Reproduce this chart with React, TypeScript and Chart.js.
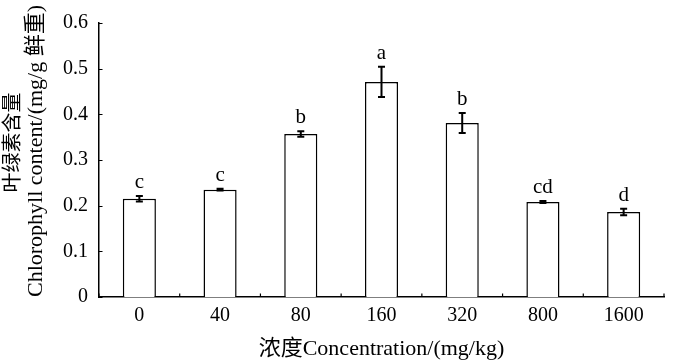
import React, { useEffect, useRef } from 'react';
import { Chart, registerables } from 'chart.js';

Chart.register(...registerables);

const categories = ['0', '40', '80', '160', '320', '800', '1600'];
const values = [0.215, 0.235, 0.357, 0.471, 0.381, 0.208, 0.186];
const errors = [0.006, 0.002, 0.006, 0.033, 0.022, 0.002, 0.007];
const letters = ['c', 'c', 'b', 'a', 'b', 'cd', 'd'];
const yTitleLine1 = '叶绿素含量';
const yTitleLine2 = 'Chlorophyll content/(mg/g 鲜重)';
const xTitle = '浓度Concentration/(mg/kg)';

const FONT = "'Liberation Serif', 'Noto Sans CJK SC', serif";

const overlayPlugin = {
  id: 'overlay',
  afterDatasetsDraw(chart: any) {
    const ctx = chart.ctx;
    const xs = chart.scales.x;
    const ys = chart.scales.y;
    const meta = chart.getDatasetMeta(0);
    ctx.save();
    ctx.strokeStyle = '#000';
    ctx.fillStyle = '#000';
    // error bars + significance letters
    meta.data.forEach((bar: any, i: number) => {
      const cx = bar.x;
      const top = ys.getPixelForValue(values[i] + errors[i]);
      const bot = ys.getPixelForValue(values[i] - errors[i]);
      ctx.lineWidth = 2;
      ctx.beginPath();
      ctx.moveTo(cx, top);
      ctx.lineTo(cx, bot);
      ctx.moveTo(cx - 3.5, top);
      ctx.lineTo(cx + 3.5, top);
      ctx.moveTo(cx - 3.5, bot);
      ctx.lineTo(cx + 3.5, bot);
      ctx.stroke();
      ctx.font = `21px ${FONT}`;
      ctx.textAlign = 'center';
      ctx.textBaseline = 'alphabetic';
      ctx.fillText(letters[i], cx, top - 8);
    });
    // inward tick marks
    ctx.lineWidth = 1.2;
    ctx.beginPath();
    ys.ticks.forEach((t: any) => {
      const py = Math.round(ys.getPixelForValue(t.value)) + 0.5;
      ctx.moveTo(xs.left, py);
      ctx.lineTo(xs.left + 3.5, py);
    });
    const n = categories.length;
    for (let i = 0; i <= n; i++) {
      const px = xs.left + ((xs.right - xs.left) * i) / n;
      ctx.moveTo(px, ys.bottom);
      ctx.lineTo(px, ys.bottom - 3.5);
    }
    ctx.stroke();
    // y axis title (two lines, rotated)
    ctx.textAlign = 'center';
    ctx.textBaseline = 'middle';
    ctx.save();
    ctx.translate(14, 142.5);
    ctx.rotate(-Math.PI / 2);
    ctx.font = `20px ${FONT}`;
    ctx.fillText(yTitleLine1, 0, 0);
    ctx.restore();
    ctx.save();
    ctx.translate(36, 151);
    ctx.rotate(-Math.PI / 2);
    ctx.font = `22px ${FONT}`;
    ctx.fillText(yTitleLine2, 0, 0);
    ctx.restore();
    ctx.restore();
  },
};

export default function App() {
  const ref = useRef<HTMLCanvasElement>(null);
  useEffect(() => {
    document.body.style.margin = '0';
    const chart = new Chart(ref.current as HTMLCanvasElement, {
      type: 'bar',
      data: {
        labels: categories,
        datasets: [
          {
            data: values,
            backgroundColor: '#ffffff',
            borderColor: '#000000',
            borderWidth: 1.5,
            barPercentage: 0.41,
            categoryPercentage: 1,
          },
        ],
      },
      options: {
        animation: false,
        responsive: false,
        maintainAspectRatio: false,
        layout: { padding: { left: 0, top: 17, right: 36, bottom: 0 } },
        plugins: { legend: { display: false }, tooltip: { enabled: false } },
        scales: {
          x: {
            grid: { display: false, drawTicks: false },
            border: { display: true, color: '#000', width: 1.5 },
            ticks: {
              color: '#000',
              font: { family: FONT, size: 20 },
              padding: 7,
              maxRotation: 0,
            },
            title: {
              display: true,
              text: xTitle,
              color: '#000',
              font: { family: FONT, size: 22, lineHeight: 1.0 },
              padding: { top: 0, bottom: 2 },
            },
            afterFit: (s: any) => {
              s.height = 65;
            },
          },
          y: {
            min: 0,
            max: 0.6,
            grid: { display: false, drawTicks: false },
            border: { display: true, color: '#000', width: 1.5 },
            ticks: {
              stepSize: 0.1,
              color: '#000',
              padding: 11,
              font: { family: FONT, size: 20 },
              callback: (v: any) => String(Number(Number(v).toFixed(1))),
            },
            title: { display: false },
            afterFit: (s: any) => {
              s.width = 99;
            },
          },
        },
      },
      plugins: [overlayPlugin],
    });
    return () => chart.destroy();
  }, []);
  return (
    <div style={{ position: 'absolute', left: 0, top: 0, width: 700, height: 362, background: '#fff' }}>
      <canvas ref={ref} width={700} height={362} />
    </div>
  );
}
